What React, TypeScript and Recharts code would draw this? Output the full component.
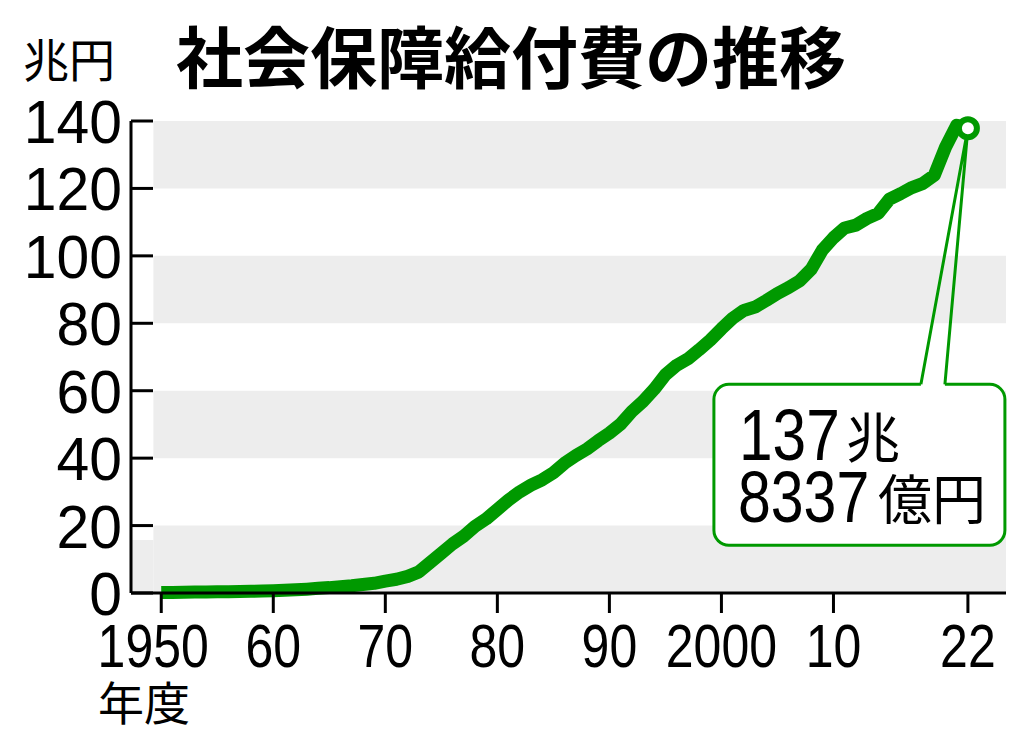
import React from "react";
import { LineChart, Line, XAxis, YAxis, ReferenceArea, ReferenceDot } from "recharts";

// 社会保障給付費 (兆円), 年度別
const years = [
  1950, 1951, 1952, 1953, 1954, 1955, 1956, 1957, 1958, 1959,
  1960, 1961, 1962, 1963, 1964, 1965, 1966, 1967, 1968, 1969,
  1970, 1971, 1972, 1973, 1974, 1975, 1976, 1977, 1978, 1979,
  1980, 1981, 1982, 1983, 1984, 1985, 1986, 1987, 1988, 1989,
  1990, 1991, 1992, 1993, 1994, 1995, 1996, 1997, 1998, 1999,
  2000, 2001, 2002, 2003, 2004, 2005, 2006, 2007, 2008, 2009,
  2010, 2011, 2012, 2013, 2014, 2015, 2016, 2017, 2018, 2019,
  2020, 2021, 2022,
];
const benefits = [
  0.13, 0.16, 0.21, 0.26, 0.3, 0.39, 0.4, 0.44, 0.51, 0.57,
  0.65, 0.79, 0.95, 1.14, 1.4, 1.6, 1.89, 2.17, 2.53, 2.87,
  3.52, 4.07, 4.93, 6.27, 9.04, 11.78, 14.57, 16.89, 19.78, 21.97,
  24.79, 27.58, 30.01, 31.98, 33.58, 35.68, 38.5, 40.73, 42.71, 45.16,
  47.42, 50.1, 53.84, 56.83, 60.47, 64.73, 67.54, 69.42, 72.14, 75.03,
  78.36, 81.5, 83.82, 84.81, 86.76, 88.85, 90.59, 92.64, 95.98, 101.68,
  105.37, 108.27, 109.12, 111.11, 112.62, 116.82, 118.45, 120.25, 121.51, 123.92,
  132.22, 138.74, 137.83,
];

const xTicks = [1950, 1960, 1970, 1980, 1990, 2000, 2010, 2022];
const xTickLabels = ["1950", "60", "70", "80", "90", "2000", "10", "22"];
const yTicks = [0, 20, 40, 60, 80, 100, 120, 140];
const bands = [
  [120, 140],
  [80, 100],
  [40, 60],
  [0, 20],
];

const latestYear = 2022;
const latestValue = 137.83;
const calloutLine1 = ["137", "兆"];
const calloutLine2 = ["8337", "億円"];

const data = years.map((year, i) => ({ year, value: benefits[i] }));

const GREEN = "#009900";
const BAND = "#ededed";
const NUM_FONT = "'Liberation Sans', Arial, sans-serif";
const JP_FONT = "'Noto Sans CJK JP', sans-serif";

const X_MIN = 1947.3;
const X_MAX = 2025.4;
const BAND_START = 1949.3;

const YTick = ({ x, y, payload }: any) => (
  <g>
    <line x1={x + 9} x2={x + 31} y1={y} y2={y} stroke="#000" strokeWidth={3} />
    <text
      transform={`translate(${x},${y + 22}) scale(0.95,1)`}
      textAnchor="end"
      fontSize={62}
      fontFamily={NUM_FONT}
      fill="#000"
    >
      {payload.value}
    </text>
  </g>
);

const XTick = ({ x, y, payload, index }: any) => (
  <text
    transform={`translate(${x + (index === 0 ? -8 : 0)},${y + 54}) scale(0.82,1)`}
    textAnchor="middle"
    fontSize={61}
    fontFamily={NUM_FONT}
    fill="#000"
  >
    {xTickLabels[xTicks.indexOf(payload.value)]}
  </text>
);

const Callout = ({ cx, cy }: any) => {
  const left = cx - 254;
  const right = cx + 37;
  const top = cy + 256;
  const bottom = cy + 417;
  const r = 15;
  const gapL = cx - 47;
  const gapR = cx - 23;
  const path =
    `M ${gapR} ${top} H ${right - r} A ${r} ${r} 0 0 1 ${right} ${top + r} ` +
    `V ${bottom - r} A ${r} ${r} 0 0 1 ${right - r} ${bottom} H ${left + r} ` +
    `A ${r} ${r} 0 0 1 ${left} ${bottom - r} V ${top + r} A ${r} ${r} 0 0 1 ${left + r} ${top} H ${gapL}`;
  return (
    <g>
      <rect x={left} y={top} width={right - left} height={bottom - top} rx={r} fill="#fff" />
      <path d={path} fill="none" stroke={GREEN} strokeWidth={3} />
      <polyline
        points={`${gapL},${top} ${cx},${cy} ${gapR},${top}`}
        fill="none"
        stroke={GREEN}
        strokeWidth={3}
      />
      <text
        transform={`translate(${left + 25},${top + 76}) scale(0.84,1)`}
        fontSize={72}
        fontFamily={NUM_FONT}
        fill="#000"
      >
        {calloutLine1[0]}
      </text>
      <text x={left + 132} y={top + 74} fontSize={54} fontFamily={JP_FONT} fill="#000">
        {calloutLine1[1]}
      </text>
      <text
        transform={`translate(${left + 24},${top + 138}) scale(0.82,1)`}
        fontSize={72}
        fontFamily={NUM_FONT}
        fill="#000"
      >
        {calloutLine2[0]}
      </text>
      <text x={left + 164} y={top + 136} fontSize={54} fontFamily={JP_FONT} fill="#000">
        {calloutLine2[1]}
      </text>
      <circle cx={cx} cy={cy} r={9} fill="#fff" stroke={GREEN} strokeWidth={6} />
    </g>
  );
};

export default function App() {
  return (
    <div style={{ position: "absolute", left: 0, top: 0, width: 1024, height: 740, background: "#fff" }}>
      <LineChart
        width={1024}
        height={740}
        data={data}
        margin={{ top: 121, right: 18, bottom: 87, left: 0 }}
      >
        {bands.map(([y1, y2]) => (
          <ReferenceArea
            key={y1}
            x1={BAND_START}
            x2={X_MAX}
            y1={y1}
            y2={y2}
            fill={BAND}
            fillOpacity={1}
            stroke="none"
          />
        ))}
        <ReferenceArea x1={X_MIN} x2={BAND_START} y1={0} y2={15.7} fill={BAND} fillOpacity={1} stroke="none" />
        <XAxis
          dataKey="year"
          type="number"
          domain={[X_MIN, X_MAX]}
          ticks={xTicks}
          interval={0}
          height={60}
          tickSize={20}
          tickMargin={0}
          axisLine={{ stroke: "#000", strokeWidth: 3 }}
          tickLine={{ stroke: "#000", strokeWidth: 3 }}
          tick={<XTick />}
        />
        <YAxis
          type="number"
          domain={[0, 140]}
          ticks={yTicks}
          interval={0}
          width={131}
          tickSize={0}
          tickMargin={9}
          axisLine={{ stroke: "#000", strokeWidth: 3 }}
          tickLine={false}
          tick={<YTick />}
        />
        <Line
          type="linear"
          dataKey="value"
          stroke={GREEN}
          strokeWidth={13}
          strokeLinejoin="round"
          strokeLinecap="butt"
          dot={false}
          activeDot={false}
          isAnimationActive={false}
        />
        <ReferenceDot x={latestYear} y={latestValue} r={9} shape={<Callout />} />
      </LineChart>
      <svg
        width={1024}
        height={740}
        style={{ position: "absolute", left: 0, top: 0, pointerEvents: "none" }}
      >
        <text x={176} y={83} fontSize={67} fontWeight={700} fontFamily={JP_FONT} fill="#000">
          社会保障給付費の推移
        </text>
        <text x={23} y={77} fontSize={46} fontFamily={JP_FONT} fill="#000">
          兆円
        </text>
        <text x={98} y={720} fontSize={46} fontFamily={JP_FONT} fill="#000">
          年度
        </text>
      </svg>
    </div>
  );
}
